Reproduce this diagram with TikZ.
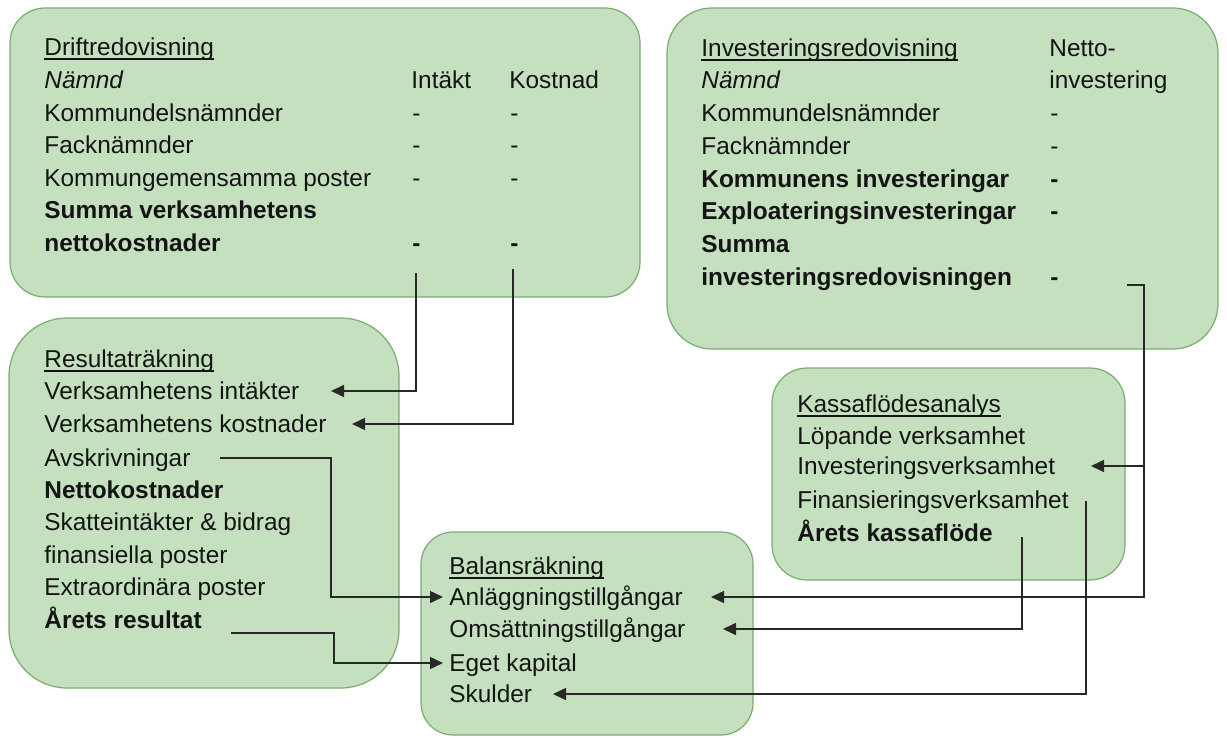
\documentclass[tikz,border=0pt]{standalone}
\usepackage{fontspec}
\setmainfont{Liberation Sans}
\usetikzlibrary{arrows.meta}
\definecolor{boxfill}{RGB}{196,224,191}
\definecolor{boxline}{RGB}{122,172,112}
\definecolor{linecol}{RGB}{40,40,40}
\definecolor{txtcol}{RGB}{20,20,20}
\newcommand\ulhead[1]{\setbox0\hbox{#1}\rlap{\rule[-2pt]{\wd0}{0.7pt}}\box0}
\begin{document}
\begin{tikzpicture}[x=0.5pt,y=-0.5pt,
  panel/.style={draw=boxline,fill=boxfill,line width=0.6pt,rounded corners=#1},
  row/.style={anchor=west,inner sep=0pt,text height=8.8pt,text depth=0pt,
    text=txtcol,font=\fontsize{12.2pt}{14pt}\selectfont},
  brow/.style={row,font=\fontsize{12.2pt}{14pt}\selectfont\bfseries},
  irow/.style={row,font=\fontsize{12.2pt}{14pt}\selectfont\itshape},
  conn/.style={draw=linecol,line width=0.75pt},
  arr/.style={conn,-{Triangle[length=6.5pt,width=6pt]}}]
\useasboundingbox (0,0) rectangle (1227,738);
% panels
\path[panel=17.5pt] (10,8) rectangle (640,297);
\path[panel=22.5pt] (667,8) rectangle (1218,349);
\path[panel=29pt] (9,318) rectangle (399,688);
\path[panel=17.5pt] (772,368) rectangle (1125,580);
\path[panel=16pt] (421,532) rectangle (753,735);

% Driftredovisning
\node[row]  (d0) at (44,47)  {\ulhead{Driftredovisning}};
\node[irow] (d1) at (44,80)  {Nämnd};
\node[row]  (d2) at (44,113) {Kommundelsnämnder};
\node[row]  (d3) at (44,145) {Facknämnder};
\node[row]  (d4) at (44,178) {Kommungemensamma poster};
\node[brow] (d5) at (44,210) {Summa verksamhetens};
\node[brow] (d6) at (44,243) {nettokostnader};
\node[row]  (di) at (411,80) {Intäkt};
\node[row]  (dk) at (509,80) {Kostnad};
\node[row]  (di2) at (412,113) {-};
\node[row]  (di3) at (412,145) {-};
\node[row]  (di4) at (412,178) {-};
\node[brow] (di6) at (412,243) {-};
\node[row]  (dk2) at (510,113) {-};
\node[row]  (dk3) at (510,145) {-};
\node[row]  (dk4) at (510,178) {-};
\node[brow] (dk6) at (510,243) {-};

% Investeringsredovisning
\node[row]  (i0) at (701,48)  {\ulhead{Investeringsredovisning}};
\node[irow] (i1) at (701,80)  {Nämnd};
\node[row]  (i2) at (701,113) {Kommundelsnämnder};
\node[row]  (i3) at (701,146) {Facknämnder};
\node[brow] (i4) at (701,179) {Kommunens investeringar};
\node[brow] (i5) at (701,211) {Exploateringsinvesteringar};
\node[brow] (i6) at (701,244) {Summa};
\node[brow] (i7) at (701,277) {investeringsredovisningen};
\node[row]  (in1) at (1049,48) {Netto-};
\node[row]  (in2) at (1049,80) {investering};
\node[row]  (id2) at (1050,113) {-};
\node[row]  (id3) at (1050,146) {-};
\node[brow] (id4) at (1050,179) {-};
\node[brow] (id5) at (1050,211) {-};
\node[brow] (id7) at (1050,277) {-};

% Resultaträkning
\node[row]  (r0) at (44,359) {\ulhead{Resultaträkning}};
\node[row]  (vi) at (44,391) {Verksamhetens intäkter};
\node[row]  (vk) at (44,424) {Verksamhetens kostnader};
\node[row]  (av) at (44,458) {Avskrivningar};
\node[brow] (nk) at (44,490) {Nettokostnader};
\node[row]  (sk) at (44,522) {Skatteintäkter \& bidrag};
\node[row]  (fp) at (44,555) {finansiella poster};
\node[row]  (ep) at (44,587) {Extraordinära poster};
\node[brow] (ar) at (44,620) {Årets resultat};

% Kassaflödesanalys
\node[row]  (k0) at (797,404) {\ulhead{Kassaflödesanalys}};
\node[row]  (lv) at (797,436) {Löpande verksamhet};
\node[row]  (iv) at (797,466) {Investeringsverksamhet};
\node[row]  (fv) at (797,500) {Finansieringsverksamhet};
\node[brow] (kf) at (797,533) {Årets kassaflöde};

% Balansräkning
\node[row]  (b0) at (449,566) {\ulhead{Balansräkning}};
\node[row]  (an) at (449,597) {Anläggningstillgångar};
\node[row]  (om) at (449,629) {Omsättningstillgångar};
\node[row]  (ek) at (449,663) {Eget kapital};
\node[row]  (sd) at (449,694) {Skulder};

% connector ends and bends
\coordinate (ci) at (416,273);
\coordinate (ck) at (513,269);
\coordinate (ja) at (331,0);
\coordinate (jr) at (334,0);
\coordinate (cinv) at (1127,285);
\coordinate (xinv) at (1144,0);
\coordinate (ckf) at (1022,537);
\coordinate (cfv) at (1086,501);

% connectors
\draw[arr] (ci) |- ([xshift=143.5pt]vi.west);
\draw[arr] (ck) |- ([xshift=154pt]vk.west);
\draw[arr] ([xshift=88pt]av.west) -- (av.west -| ja) |- ([xshift=-3pt]an.west);
\draw[arr] ([xshift=93.5pt,yshift=-6.5pt]ar.west) coordinate (ars) -- (ars -| jr) |- ([xshift=-3pt]ek.west);
\draw[arr] (cinv) -| (an.west -| xinv) -- ([xshift=131pt]an.west);
\draw[arr] (iv.west -| xinv) -- ([xshift=147pt]iv.west);
\draw[arr] (ckf) |- ([xshift=137pt]om.west);
\draw[arr] (cfv) |- ([xshift=52pt]sd.west);
\end{tikzpicture}
\end{document}
